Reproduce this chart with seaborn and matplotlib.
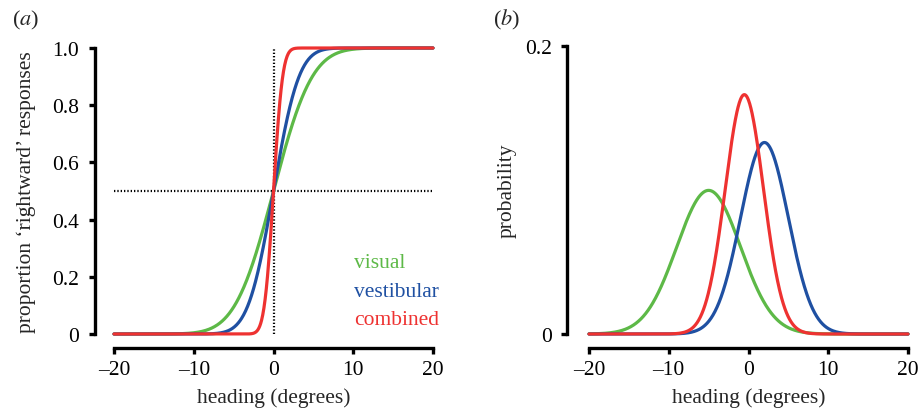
import math

import matplotlib
matplotlib.use("Agg")
import matplotlib.pyplot as plt
import numpy as np
import pandas as pd
import seaborn as sns

# cue names and colours
cues = ["visual", "vestibular", "combined"]
colours = ["#5db947", "#1f50a2", "#ee3231"]

# panel (a): psychometric functions, all centred at 0, widths
psy_means = [0.0, 0.0, 0.0]
psy_sigmas = [3.8, 2.5, 0.9]

# panel (b): likelihoods, peaks at -5 / 2 / -0.5, heights 0.10 / 0.133 / 0.166
lik_means = [-5.0, 2.0, -0.52]
lik_sigmas = [4.0, 3.0, 2.4]

heading = np.linspace(-20, 20, 801)
x_ticks = [-20, -10, 0, 10, 20]
a_yticks = [0, 0.2, 0.4, 0.6, 0.8, 1.0]
a_yticklabels = ["0", "0.2", "0.4", "0.6", "0.8", "1.0"]
b_yticks = [0, 0.2]
b_yticklabels = ["0", "0.2"]

erf = np.vectorize(math.erf)


def build_frame(means, sigmas, kind):
    rows = []
    for cue, mu, sd in zip(cues, means, sigmas):
        z = (heading - mu) / sd
        if kind == "cdf":
            y = 0.5 * (1 + erf(z / math.sqrt(2)))
        else:
            y = np.exp(-0.5 * z ** 2) / (sd * math.sqrt(2 * math.pi))
        rows.append(pd.DataFrame({"heading": heading, "value": y, "cue": cue}))
    return pd.concat(rows, ignore_index=True)


psy_df = build_frame(psy_means, psy_sigmas, "cdf")
lik_df = build_frame(lik_means, lik_sigmas, "pdf")

sns.set_theme(style="ticks")
plt.rcParams["font.family"] = ["Liberation Serif", "DejaVu Serif"]
plt.rcParams["font.size"] = 15
plt.rcParams["mathtext.fontset"] = "stix"

palette = dict(zip(cues, colours))

fig = plt.figure(figsize=(9.19, 4.10), dpi=100)
ax_a = fig.add_axes([114 / 919, 1 - 335 / 410, 319 / 919, 286 / 410])
ax_b = fig.add_axes([589 / 919, 1 - 335 / 410, 319 / 919, 288 / 410])


def style_axis(ax, yticks, yticklabels, ylim, left_off):
    ax.set_xlim(-20, 20)
    ax.set_ylim(*ylim)
    ax.set_xticks(x_ticks)
    ax.set_xticklabels(["\u201320", "\u201310", "0", "10", "20"])
    ax.set_yticks(yticks)
    ax.set_yticklabels(yticklabels)
    for side in ["top", "right"]:
        ax.spines[side].set_visible(False)
    ax.spines["left"].set_position(("outward", left_off))
    ax.spines["bottom"].set_position(("outward", 10))
    for side in ["left", "bottom"]:
        ax.spines[side].set_linewidth(2.4)
        ax.spines[side].set_color("black")
    ax.tick_params(axis="both", width=2.4, length=4, labelsize=15.5, colors="black")
    ax.tick_params(axis="y", pad=7)
    ax.tick_params(axis="x", pad=5)
    ax.set_xlabel("heading (degrees)", fontsize=15.5, labelpad=6)
    ax.set_facecolor("none")


# panel (a)
ax_a.plot([0, 0], [0, 1], color="black", lw=1.6, ls=(0, (0.6, 0.9)), zorder=1)
ax_a.plot([-20, 20], [0.5, 0.5], color="black", lw=1.6, ls=(0, (0.6, 0.9)), zorder=1)
sns.lineplot(data=psy_df, x="heading", y="value", hue="cue", palette=palette,
             linewidth=2.3, legend=False, ax=ax_a, estimator=None)
for ln in ax_a.lines:
    ln.set_clip_on(False)
style_axis(ax_a, a_yticks, a_yticklabels, (0, 1), 14)
ax_a.set_ylabel("proportion \u2018rightward\u2019 responses", fontsize=15.5, labelpad=12)
for i, (cue, col) in enumerate(zip(cues, colours)):
    ax_a.text(10.1, 0.25 - i * 0.1, cue, color=col, fontsize=15.5, ha="left", va="center")

# panel (b)
sns.lineplot(data=lik_df, x="heading", y="value", hue="cue", palette=palette,
             linewidth=2.3, legend=False, ax=ax_b, estimator=None)
for ln in ax_b.lines:
    ln.set_clip_on(False)
style_axis(ax_b, b_yticks, b_yticklabels, (0, 0.2), 16)
ax_b.set_ylabel("probability", fontsize=15.5, labelpad=6)

fig.text(12 / 919, 1 - 20 / 410, "($a$)", fontsize=16, va="center", ha="left")
fig.text(493 / 919, 1 - 20 / 410, "($b$)", fontsize=16, va="center", ha="left")

fig.savefig("out.png", dpi=100)
